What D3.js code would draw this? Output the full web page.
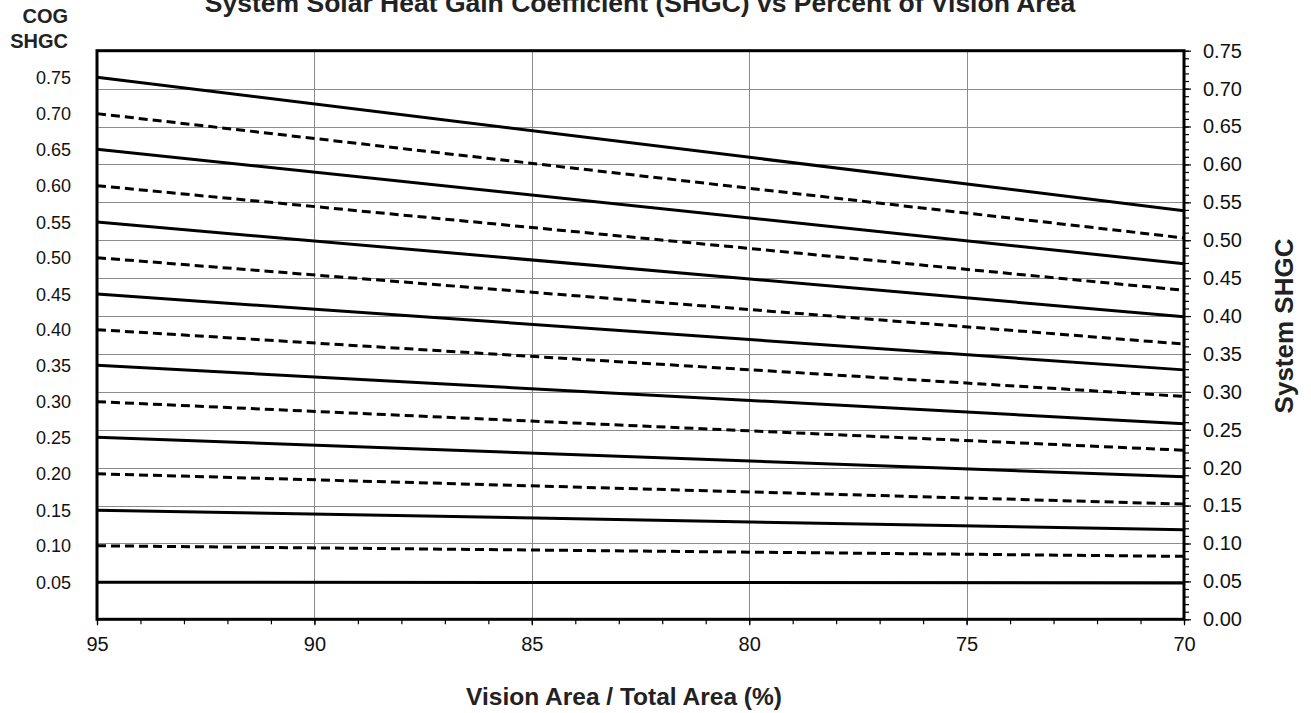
<!DOCTYPE html>
<html>
<head>
<meta charset="utf-8">
<style>
  body { margin: 0; background: #fff; font-family: "Liberation Sans", Arial, Helvetica, sans-serif; }
  svg { display: block; }
  .grid line { stroke: #8c8c8c; stroke-width: 1px; shape-rendering: crispEdges; }
  .axis path { display: none; }
  .axis line { stroke: #000; stroke-width: 1.2px; }
  .axis text { font-size: 20px; fill: #111; font-family: "Liberation Sans", Arial, sans-serif; }
  .frame { fill: none; stroke: #000; stroke-width: 3px; }
  .series { fill: none; stroke: #000; stroke-width: 3px; }
  .dashed { stroke-dasharray: 9, 5; }
  .cog-label { font-size: 18px; fill: #111; }
  .bold { font-weight: bold; fill: #222; }
</style>
</head>
<body>
<script src="https://d3js.org/d3.v7.min.js"></script>
<script>
// COG SHGC curves, system SHGC at 95% and 70% vision area
var cogLabels = ["0.75", "0.70", "0.65", "0.60", "0.55", "0.50", "0.45", "0.40", "0.35", "0.30", "0.25", "0.20", "0.15", "0.10", "0.05"];
var visionPts = [95, 70];
var sys95 = [0.715, 0.667, 0.620, 0.572, 0.524, 0.477, 0.429, 0.382, 0.335, 0.287, 0.240, 0.192, 0.144, 0.097, 0.049];
var sys70 = [0.539, 0.503, 0.469, 0.434, 0.399, 0.363, 0.329, 0.294, 0.258, 0.223, 0.188, 0.152, 0.118, 0.083, 0.048];
var dashedCurve = [false, true, false, true, false, true, false, true, false, true, false, true, false, true, false];
var xTicks = [95, 90, 85, 80, 75, 70];
var yTicks = [0, 0.05, 0.10, 0.15, 0.20, 0.25, 0.30, 0.35, 0.40, 0.45, 0.50, 0.55, 0.60, 0.65, 0.70, 0.75];

var W = 1311, H = 713;
var plotL = 97, plotR = 1184, plotT = 50.7, plotB = 619.3;

var svg = d3.select("body").append("svg")
    .attr("width", W)
    .attr("height", H);

var x = d3.scaleLinear().domain([95, 70]).range([plotL, plotR]);
var y = d3.scaleLinear().domain([0, 0.75]).range([plotB, plotT]);

// gridlines
var grid = svg.append("g").attr("class", "grid");
grid.selectAll(".h")
    .data(yTicks.filter(function(d) { return d > 0 && d < 0.75; }))
  .enter().append("line")
    .attr("x1", plotL).attr("x2", plotR)
    .attr("y1", function(d) { return Math.round(y(d)) + 0.5; })
    .attr("y2", function(d) { return Math.round(y(d)) + 0.5; });
grid.selectAll(".v")
    .data(xTicks.filter(function(d) { return d < 95 && d > 70; }))
  .enter().append("line")
    .attr("y1", plotT).attr("y2", plotB)
    .attr("x1", function(d) { return Math.round(x(d)) + 0.5; })
    .attr("x2", function(d) { return Math.round(x(d)) + 0.5; });

// curves
var curves = cogLabels.map(function(c, i) {
  return { cog: c, dashed: dashedCurve[i], pts: [[visionPts[0], sys95[i]], [visionPts[1], sys70[i]]] };
});
var line = d3.line()
    .x(function(d) { return x(d[0]); })
    .y(function(d) { return y(d[1]); });
svg.append("g").selectAll("path")
    .data(curves)
  .enter().append("path")
    .attr("class", function(d) { return d.dashed ? "series dashed" : "series"; })
    .attr("d", function(d) { return line(d.pts); });

// axes: minor ticks first
var minorX = d3.range(70, 96, 1);
svg.append("g")
    .attr("class", "axis")
    .attr("transform", "translate(0," + plotB + ")")
    .call(d3.axisBottom(x).tickValues(minorX).tickSize(5).tickFormat(""));
svg.append("g")
    .attr("class", "axis")
    .attr("transform", "translate(0," + plotB + ")")
    .call(d3.axisBottom(x).tickValues(xTicks).tickSize(6).tickPadding(12).tickFormat(d3.format("d")));

var minorY = d3.range(0, 76, 1).map(function(d) { return d / 100; });
svg.append("g")
    .attr("class", "axis")
    .attr("transform", "translate(" + plotR + ",0)")
    .call(d3.axisRight(y).tickValues(minorY).tickSize(5).tickFormat(""));
svg.append("g")
    .attr("class", "axis")
    .attr("transform", "translate(" + plotR + ",0)")
    .call(d3.axisRight(y).tickValues(yTicks).tickSize(7).tickPadding(12).tickFormat(d3.format(".2f")));

// frame
svg.append("rect")
    .attr("class", "frame")
    .attr("x", plotL).attr("y", plotT)
    .attr("width", plotR - plotL).attr("height", plotB - plotT);

// COG labels at curve starts
svg.append("g").selectAll("text")
    .data(curves)
  .enter().append("text")
    .attr("class", "cog-label")
    .attr("x", 71)
    .attr("y", function(d) { return y(d.pts[0][1]); })
    .attr("dy", "0.36em")
    .attr("text-anchor", "end")
    .text(function(d) { return d.cog; });

svg.append("text")
    .attr("class", "bold")
    .attr("x", 68).attr("y", 23)
    .attr("text-anchor", "end")
    .style("font-size", "20px")
    .text("COG");
svg.append("text")
    .attr("class", "bold")
    .attr("x", 68).attr("y", 48)
    .attr("text-anchor", "end")
    .style("font-size", "20px")
    .text("SHGC");

// titles
svg.append("text")
    .attr("class", "bold")
    .attr("x", 640).attr("y", 12)
    .attr("text-anchor", "middle")
    .style("font-size", "26.5px")
    .text("System Solar Heat Gain Coefficient (SHGC) vs Percent of Vision Area");

svg.append("text")
    .attr("class", "bold")
    .attr("x", 624).attr("y", 705)
    .attr("text-anchor", "middle")
    .style("font-size", "24.5px")
    .text("Vision Area / Total Area (%)");

svg.append("text")
    .attr("class", "bold")
    .attr("transform", "translate(1293," + 326 + ") rotate(-90)")
    .attr("text-anchor", "middle")
    .style("font-size", "26px")
    .text("System SHGC");
</script>
</body>
</html>
